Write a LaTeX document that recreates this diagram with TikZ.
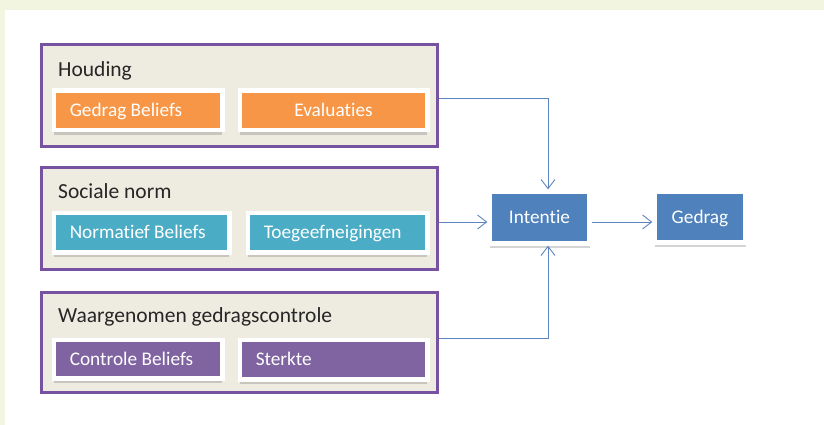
\documentclass[tikz,border=0pt]{standalone}
\usepackage{fontspec}
\setmainfont{Carlito}[Ligatures=NoCommon, RawFeature={-calt;-clig;-liga}]
\usetikzlibrary{arrows.meta,shadows}
\definecolor{bggreen}{HTML}{F2F6E0}
\definecolor{grpborder}{HTML}{7752A0}
\definecolor{grpfill}{HTML}{EEEBE0}
\definecolor{titletext}{HTML}{262626}
\definecolor{corange}{HTML}{F79646}
\definecolor{cteal}{HTML}{4BACC6}
\definecolor{cpurple}{HTML}{8064A2}
\definecolor{cblue}{HTML}{4F81BD}
\definecolor{arrowblue}{HTML}{5B84C0}
\newcommand\leftin[2]{\makebox[#1][l]{#2}}
\begin{document}
\begin{tikzpicture}[x=1pt,y=-1pt,
  group/.style={draw=grpborder, line width=3pt, fill=grpfill, minimum width=396pt, inner sep=0pt},
  grouptitle/.style={anchor=base west, inner sep=0pt, font=\fontsize{21.5}{25}\selectfont, text=titletext},
  card/.style={draw=white, line width=4.5pt, text=white, font=\fontsize{19.3}{23}\selectfont,
    text height=12.4pt, text depth=0pt, inner ysep=0pt,
    drop shadow={shadow xshift=0pt, shadow yshift=-4.5pt, opacity=0.28, fill=black!60}},
  cardL/.style={card, inner xsep=16pt},
  cardC/.style={card, inner xsep=4pt},
  arr/.style={draw=arrowblue, line width=0.9pt, -{Straight Barb[length=9pt,width=14pt]}}
]
\useasboundingbox (0,0) rectangle (824,425);
\fill[white] (0,0) rectangle (824,425);
\fill[bggreen] (0,0) rectangle (824,10);
\fill[bggreen] (0,0) rectangle (5,425);

% groups
\node[group, minimum height=101pt] (houding) at (239,95.5) {};
\node[group, minimum height=102pt] (sociale) at (239,218) {};
\node[group, minimum height=100pt] (waarg) at (239,342) {};

\node[grouptitle] (houdingT) at (58,76.5) {Houding};
\node[grouptitle] (socialeT) at (58,198) {Sociale norm};
\node[grouptitle] (waargT) at (58,322) {Waargenomen gedragscontrole};

% cards
\node[cardL, fill=corange, minimum width=168.5pt, minimum height=39.5pt] (gb) at (138,110.5) {\leftin{136.5pt}{Gedrag Beliefs}};
\node[cardC, fill=corange, minimum width=187.5pt, minimum height=39.5pt] (ev) at (333.5,110.5) {Evaluaties};
\node[cardL, fill=cteal, minimum width=175.5pt, minimum height=39.5pt] (nb) at (141.5,232.5) {\leftin{143.5pt}{Normatief Beliefs}};
\node[cardL, fill=cteal, minimum width=179.5pt, minimum height=39.5pt] (toe) at (337.5,232.5) {\leftin{147.5pt}{Toegeefneigingen}};
\node[cardL, fill=cpurple, minimum width=168.5pt, minimum height=38.5pt] (cb) at (138,359) {\leftin{136.5pt}{Controle Beliefs}};
\node[cardL, fill=cpurple, minimum width=187.5pt, minimum height=39.5pt] (st) at (333.5,359.5) {\leftin{155.5pt}{Sterkte}};

\node[cardC, fill=cblue, minimum width=100pt, minimum height=52pt] (intentie) at (539.5,217.5) {Intentie};
\node[cardC, fill=cblue, minimum width=91pt, minimum height=51pt] (gedrag) at (700,217) {Gedrag};

% connectors
\coordinate (k1) at (548,98);
\coordinate (k2) at (548,222);
\coordinate (k3) at (548,338);
\draw[arr] (houding.east |- k1) -- (k1) -- (intentie.north -| k1);
\draw[arr] (sociale.east |- k2) -- (intentie.west |- k2);
\draw[arr] (waarg.east |- k3) -- (k3) -- (intentie.south -| k3);
\draw[arr] (intentie.east |- k2) -- (gedrag.west |- k2);
\end{tikzpicture}
\end{document}
